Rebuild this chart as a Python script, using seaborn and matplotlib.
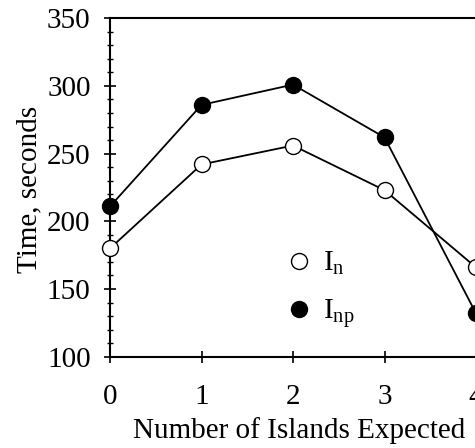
import matplotlib
matplotlib.use("Agg")
import matplotlib.pyplot as plt
import seaborn as sns
import pandas as pd
from matplotlib.lines import Line2D
from matplotlib.ticker import MultipleLocator

# ---- data ----
islands = [0, 1, 2, 3, 4]
time_in = [180, 242, 256, 223, 166]
time_inp = [211, 286, 301, 262, 132]
series_labels = [r"$\mathrm{I}_{\mathrm{n}}$", r"$\mathrm{I}_{\mathrm{np}}$"]
x_ticks = [0, 1, 2, 3, 4]
y_ticks = [100, 150, 200, 250, 300, 350]
x_label = "Number of Islands Expected"
y_label = "Time, seconds"

sns.set_theme(style="ticks", rc={
    "axes.edgecolor": "black",
    "xtick.color": "black",
    "ytick.color": "black",
    "text.color": "black",
    "axes.labelcolor": "black",
})
plt.rcParams["font.family"] = ["Liberation Serif", "DejaVu Serif"]
plt.rcParams["mathtext.fontset"] = "custom"
plt.rcParams["mathtext.rm"] = "Liberation Serif"
plt.rcParams["mathtext.it"] = "Liberation Serif:italic"

FS = 21

fig = plt.figure(figsize=(4.75, 4.48), dpi=100)
ax = fig.add_axes([0.2316, 0.2038, 0.7705, 0.7554])

df_in = pd.DataFrame({"x": islands, "t": time_in})
df_inp = pd.DataFrame({"x": islands, "t": time_inp})

sns.lineplot(data=df_inp, x="x", y="t", ax=ax, color="black", lw=1.3,
             marker="o", markersize=11.5, markerfacecolor="black",
             markeredgecolor="black", markeredgewidth=1, clip_on=False, zorder=3)
sns.lineplot(data=df_in, x="x", y="t", ax=ax, color="black", lw=1.3,
             marker="o", markersize=11.5, markerfacecolor="white",
             markeredgecolor="black", markeredgewidth=1, clip_on=False, zorder=4)

ax.set_xlim(0, 4)
ax.set_ylim(100, 350)
ax.set_xticks(x_ticks)
ax.set_yticks(y_ticks)
ax.set_xticklabels([str(v) for v in x_ticks])
ax.set_yticklabels([str(v) for v in y_ticks])
ax.yaxis.set_minor_locator(MultipleLocator(10))

ax.tick_params(which="major", direction="inout", length=8, width=1.2,
               labelsize=FS, bottom=True, left=True)
ax.tick_params(which="minor", axis="y", direction="inout", length=5, width=1.0, left=True)
ax.tick_params(axis="x", pad=16)
ax.tick_params(axis="y", pad=10)

for s in ["left", "bottom", "top"]:
    ax.spines[s].set_linewidth(1.5)
    ax.spines[s].set_color("black")
ax.spines["right"].set_visible(False)

ax.set_xlabel(x_label, fontsize=FS, va="top")
ax.set_ylabel(y_label, fontsize=FS)
ax.xaxis.set_label_coords(0.516, -0.178)
ax.yaxis.set_label_coords(-0.185, 0.493)

handles = [
    Line2D([], [], marker="o", ls="none", markersize=11.5, markerfacecolor="white",
           markeredgecolor="black", markeredgewidth=1),
    Line2D([], [], marker="o", ls="none", markersize=11.5, markerfacecolor="black",
           markeredgecolor="black", markeredgewidth=1),
]
ax.legend(handles, series_labels, loc="upper left", bbox_to_anchor=(0.477, 0.315),
          frameon=False, fontsize=FS, handlelength=1.0, handletextpad=0.3,
          borderpad=0, borderaxespad=0, labelspacing=0.68)

fig.savefig("out.png", dpi=100)
